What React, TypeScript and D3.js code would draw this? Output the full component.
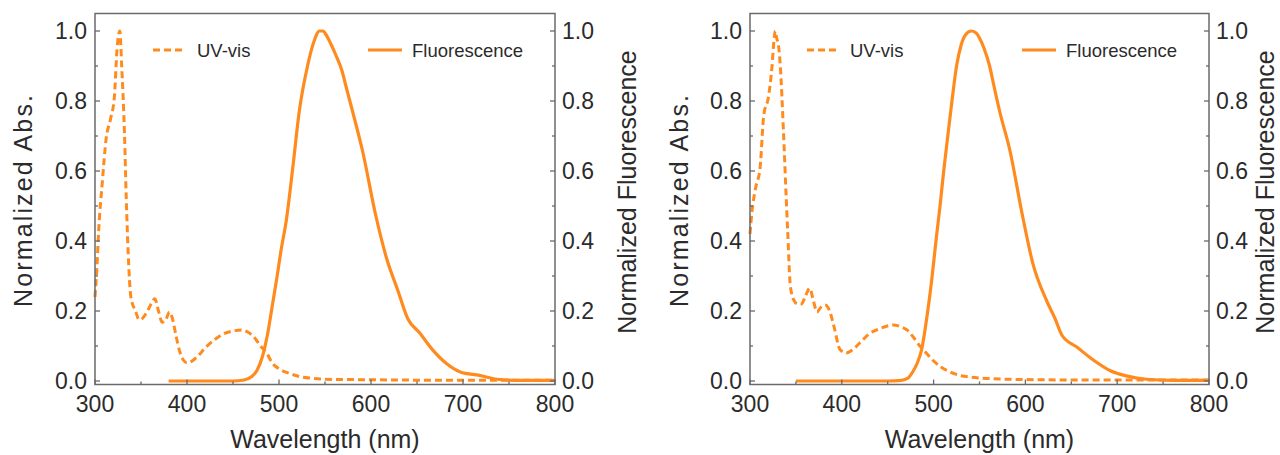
import React from 'react';
import * as d3 from 'd3';

// ---------- data ----------
const leftUvWavelength = [300, 302, 304, 308, 312, 317, 321, 324, 327, 329, 332, 334, 336, 339, 344, 348, 352, 357, 362, 365, 369, 373, 377, 381, 384, 388, 392, 396, 400, 405, 412, 420, 430, 440, 450, 459, 466, 473, 480, 487, 493, 500, 511, 522, 535, 550, 580, 620, 680, 740, 800];
const leftUvAbs = [0.24, 0.32, 0.43, 0.57, 0.69, 0.75, 0.81, 0.95, 1.0, 0.9, 0.71, 0.52, 0.37, 0.24, 0.2, 0.175, 0.18, 0.2, 0.225, 0.235, 0.2, 0.168, 0.175, 0.197, 0.18, 0.13, 0.085, 0.06, 0.052, 0.056, 0.072, 0.095, 0.118, 0.135, 0.143, 0.146, 0.14, 0.125, 0.1, 0.078, 0.05, 0.035, 0.022, 0.013, 0.008, 0.005, 0.004, 0.003, 0.002, 0.002, 0.002];

const leftFlWavelength = [380, 420, 450, 462, 470, 476, 482, 488, 493, 498, 502, 508, 515, 522, 531, 538, 544, 548, 551, 556, 562, 568, 574, 580, 591, 605, 617, 629, 640, 653, 667, 682, 697, 718, 737, 760, 800];
const leftFlIntensity = [0, 0, 0, 0.003, 0.012, 0.03, 0.07, 0.14, 0.22, 0.3, 0.37, 0.46, 0.61, 0.77, 0.9, 0.97, 1.0, 1.0, 0.99, 0.965, 0.93, 0.89, 0.83, 0.77, 0.655, 0.475, 0.35, 0.26, 0.178, 0.137, 0.089, 0.05, 0.026, 0.016, 0.005, 0.002, 0.002];

const rightUvWavelength = [300, 302, 306, 311, 315, 320, 324, 326, 327.5, 329, 331, 333, 336.5, 339.5, 341, 344, 348, 352, 356, 360, 365, 369, 373, 377, 382, 385, 388, 392, 398, 405, 412, 420, 430, 438, 447, 456, 464, 471, 478, 485, 492, 499, 508, 518, 530, 540, 560, 600, 650, 700, 800];
const rightUvAbs = [0.42, 0.48, 0.55, 0.61, 0.76, 0.81, 0.9, 0.97, 1.0, 0.98, 0.96, 0.9, 0.71, 0.52, 0.43, 0.27, 0.23, 0.22, 0.22, 0.24, 0.265, 0.23, 0.197, 0.21, 0.217, 0.21, 0.19, 0.15, 0.09, 0.08, 0.09, 0.11, 0.135, 0.146, 0.155, 0.16, 0.155, 0.146, 0.125, 0.1, 0.08, 0.06, 0.04, 0.026, 0.015, 0.011, 0.007, 0.004, 0.003, 0.003, 0.003];

const rightFlWavelength = [350, 400, 450, 465, 472, 477, 482, 487, 492, 498, 503, 507, 511, 515, 520, 525, 530, 535, 541, 546, 550, 555, 561, 566, 572, 583, 597, 608, 623, 632, 640, 656, 674, 692, 711, 732, 760, 800];
const rightFlIntensity = [0, 0, 0, 0.002, 0.008, 0.025, 0.05, 0.09, 0.17, 0.29, 0.41, 0.5, 0.6, 0.69, 0.8, 0.9, 0.96, 0.99, 1.0, 0.995, 0.98, 0.95, 0.9, 0.84, 0.77, 0.66, 0.47, 0.337, 0.23, 0.18, 0.13, 0.097, 0.06, 0.03, 0.014, 0.005, 0.002, 0.002];

const xTicks = [300, 400, 500, 600, 700, 800];
const xMinorTicks = [350, 450, 550, 650, 750];
const yTicks = [0, 0.2, 0.4, 0.6, 0.8, 1.0];
const yMinorTicks = [0.1, 0.3, 0.5, 0.7, 0.9];

const xTitle = 'Wavelength (nm)';
const yLeftTitle = 'Normalized Abs.';
const yRightTitle = 'Normalized Fluorescence';
const legendUv = 'UV-vis';
const legendFl = 'Fluorescence';

// ---------- style ----------
const ORANGE = '#ff8b1f';
const AXIS = '#6a6a6a';
const TEXT = '#2b2b2b';
const FONT = 'Liberation Sans, Arial, sans-serif';

type Layout = {
  x0: number; x1: number;
  leftTitleX: number; rightTitleX: number;
  legUv: [number, number, number]; legFl: [number, number, number];
};

const panels: Layout[] = [
  { x0: 95, x1: 555, leftTitleX: 32, rightTitleX: 636, legUv: [153, 183, 197], legFl: [368, 402, 412] },
  { x0: 750, x1: 1209, leftTitleX: 688, rightTitleX: 1274, legUv: [807, 837, 850], legFl: [1022, 1056, 1066] },
];

function zip(a: number[], b: number[]): [number, number][] {
  return a.map((v, i) => [v, b[i]]);
}

function Panel({ L, uvW, uvV, flW, flV }: { L: Layout; uvW: number[]; uvV: number[]; flW: number[]; flV: number[] }) {
  const x = d3.scaleLinear().domain([300, 800]).range([L.x0, L.x1]);
  const y = d3.scaleLinear().domain([-0.01, 1.05]).range([384.5, 13.5]);
  const line = d3.line<[number, number]>().x(d => x(d[0])).y(d => y(d[1])).curve(d3.curveMonotoneX);
  const yTop = y(1.05), yBot = y(-0.01);
  const yMid = (y(0) + y(1)) / 2;
  const xMid = (L.x0 + L.x1) / 2;
  const legY = 50;
  return (
    <g>
      <path d={line(zip(uvW, uvV)) || ''} fill="none" stroke={ORANGE} strokeWidth={3} strokeDasharray="7 4" />
      <path d={line(zip(flW, flV)) || ''} fill="none" stroke={ORANGE} strokeWidth={3.2} />
      {/* frame */}
      <rect x={L.x0} y={yTop} width={L.x1 - L.x0} height={yBot - yTop} fill="none" stroke={AXIS} strokeWidth={1.5} />
      {/* x ticks */}
      {xTicks.map(t => (
        <g key={'xt' + t}>
          <line x1={x(t)} x2={x(t)} y1={yBot} y2={yBot - 5} stroke={AXIS} strokeWidth={1.3} />
          <text x={x(t)} y={412} textAnchor="middle" fontSize={23} fill={TEXT} fontFamily={FONT}>{String(t)}</text>
        </g>
      ))}
      {xMinorTicks.map(t => (
        <line key={'xm' + t} x1={x(t)} x2={x(t)} y1={yBot} y2={yBot - 3} stroke={AXIS} strokeWidth={1.3} />
      ))}
      {/* y ticks left and right */}
      {yTicks.map(t => (
        <g key={'yt' + t}>
          <line x1={L.x0} x2={L.x0 + 5} y1={y(t)} y2={y(t)} stroke={AXIS} strokeWidth={1.3} />
          <line x1={L.x1} x2={L.x1 - 5} y1={y(t)} y2={y(t)} stroke={AXIS} strokeWidth={1.3} />
          <text x={L.x0 - 8} y={y(t)} dy="0.36em" textAnchor="end" fontSize={23} fill={TEXT} fontFamily={FONT}>{t.toFixed(1)}</text>
          <text x={L.x1 + 7} y={y(t)} dy="0.36em" textAnchor="start" fontSize={23} fill={TEXT} fontFamily={FONT}>{t.toFixed(1)}</text>
        </g>
      ))}
      {yMinorTicks.map(t => (
        <g key={'ym' + t}>
          <line x1={L.x0} x2={L.x0 + 3} y1={y(t)} y2={y(t)} stroke={AXIS} strokeWidth={1.3} />
          <line x1={L.x1} x2={L.x1 - 3} y1={y(t)} y2={y(t)} stroke={AXIS} strokeWidth={1.3} />
        </g>
      ))}
      {/* titles */}
      <text x={xMid} y={448} textAnchor="middle" fontSize={25} fill={TEXT} fontFamily={FONT}>{xTitle}</text>
      <text transform={`translate(${L.leftTitleX},${yMid - 5}) rotate(-90)`} textAnchor="middle" fontSize={25} fill={TEXT} fontFamily={FONT} textLength={212} lengthAdjust="spacing">{yLeftTitle}</text>
      <text transform={`translate(${L.rightTitleX},${yMid - 14}) rotate(-90)`} textAnchor="middle" fontSize={25} fill={TEXT} fontFamily={FONT}>{yRightTitle}</text>
      {/* legend */}
      <line x1={L.legUv[0]} x2={L.legUv[1]} y1={legY} y2={legY} stroke={ORANGE} strokeWidth={3} strokeDasharray="7 4" />
      <text x={L.legUv[2]} y={legY + 6.5} fontSize={18.5} fill={TEXT} fontFamily={FONT}>{legendUv}</text>
      <line x1={L.legFl[0]} x2={L.legFl[1]} y1={legY} y2={legY} stroke={ORANGE} strokeWidth={3} />
      <text x={L.legFl[2]} y={legY + 6.5} fontSize={18.5} fill={TEXT} fontFamily={FONT}>{legendFl}</text>
    </g>
  );
}

export default function App() {
  return (
    <svg width={1280} height={455} style={{ position: 'absolute', left: 0, top: 0, background: '#fff' }}>
      <rect x={0} y={0} width={1280} height={455} fill="#fff" />
      <Panel L={panels[0]} uvW={leftUvWavelength} uvV={leftUvAbs} flW={leftFlWavelength} flV={leftFlIntensity} />
      <Panel L={panels[1]} uvW={rightUvWavelength} uvV={rightUvAbs} flW={rightFlWavelength} flV={rightFlIntensity} />
    </svg>
  );
}
